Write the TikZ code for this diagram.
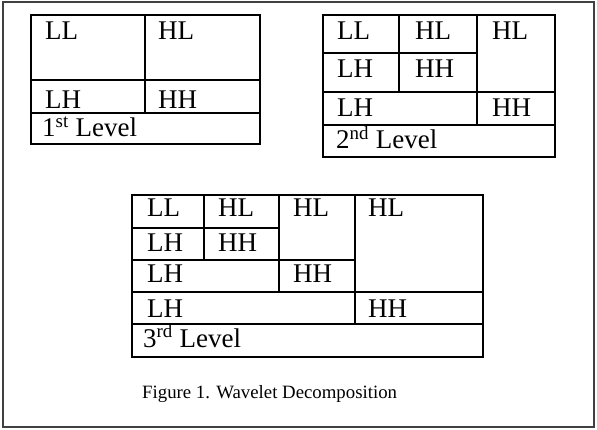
\documentclass[tikz,border=0pt]{standalone}
\usepackage{fontspec}
\setmainfont{Liberation Serif}
\begin{document}
\begin{tikzpicture}[x=1pt,y=-1pt,
  grid/.style={line width=2.3pt, line cap=rect},
  frame/.style={draw=black!75, line width=1.6pt},
  cell/.style={anchor=base west, inner sep=0pt, text depth=0pt, font=\fontsize{27}{30}\selectfont},
  caption/.style={anchor=base west, inner sep=0pt, font=\fontsize{18.8}{22}\selectfont}]
\useasboundingbox (0,0) rectangle (597,430);
\fill[white] (0,0) rectangle (597,430);
\draw[frame] (3,2) rectangle (594,427);

% first level
\draw[grid] (31,15) rectangle (260,144);
\draw[grid] (145,15) -- (145,113);
\draw[grid] (31,80) -- (260,80);
\draw[grid] (31,113) -- (260,113);
\node[cell] (a-ll) at (45,40) {LL};
\node[cell] (a-hl) at (158,40) {HL};
\node[cell] (a-lh) at (45,109) {LH};
\node[cell] (a-hh) at (158,109) {HH};
\node[cell] (a-lv) at (42,137) {1\textsuperscript{st} Level};

% second level
\draw[grid] (323,15) rectangle (555,157);
\draw[grid] (399,15) -- (399,92);
\draw[grid] (477,15) -- (477,125);
\draw[grid] (323,53) -- (477,53);
\draw[grid] (323,92) -- (555,92);
\draw[grid] (323,125) -- (555,125);
\node[cell] (b-ll) at (337,40) {LL};
\node[cell] (b-hl1) at (415,40) {HL};
\node[cell] (b-hl2) at (492,40) {HL};
\node[cell] (b-lh1) at (337,78) {LH};
\node[cell] (b-hh1) at (415,78) {HH};
\node[cell] (b-lh2) at (337,117) {LH};
\node[cell] (b-hh2) at (492,117) {HH};
\node[cell] (b-lv) at (336,149) {2\textsuperscript{nd} Level};

% third level
\draw[grid] (132,195) rectangle (483,357);
\draw[grid] (204,195) -- (204,260);
\draw[grid] (279,195) -- (279,292);
\draw[grid] (355,195) -- (355,324);
\draw[grid] (132,228) -- (279,228);
\draw[grid] (132,260) -- (355,260);
\draw[grid] (132,292) -- (483,292);
\draw[grid] (132,324) -- (483,324);
\node[cell] (c-ll) at (147,217) {LL};
\node[cell] (c-hl1) at (218,217) {HL};
\node[cell] (c-hl2) at (293,217) {HL};
\node[cell] (c-hl3) at (368,217) {HL};
\node[cell] (c-lh1) at (147,252) {LH};
\node[cell] (c-hh1) at (218,252) {HH};
\node[cell] (c-lh2) at (147,283) {LH};
\node[cell] (c-hh2) at (293,283) {HH};
\node[cell] (c-lh3) at (147,317) {LH};
\node[cell] (c-hh3) at (368,317) {HH};
\node[cell] (c-lv) at (143,347) {3\textsuperscript{rd} Level};

\node[caption] (cap) at (142,398) {Figure 1. Wavelet Decomposition};
\end{tikzpicture}
\end{document}
